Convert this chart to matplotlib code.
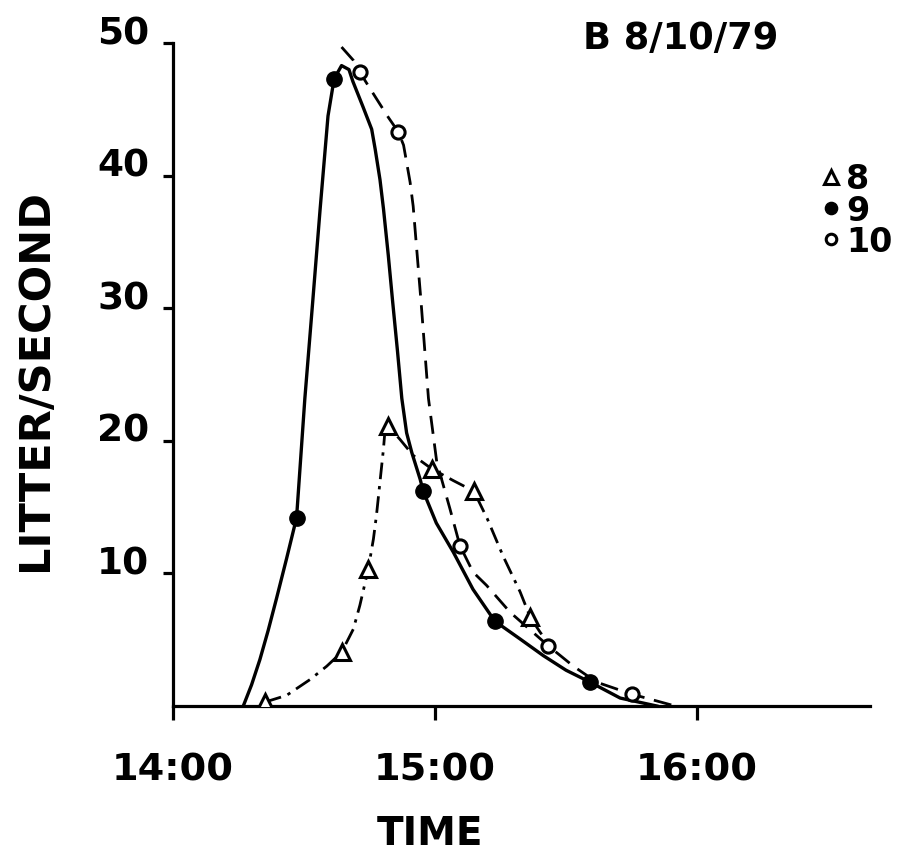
import numpy as np
import matplotlib
matplotlib.use("Agg")
import matplotlib.pyplot as plt

# time in minutes after 14:00, flow in litre/second
# series 8 (triangles, dash-dot)
t8_pts = [21.1, 38.6, 44.7, 49.3, 59.2, 68.9, 81.8]
q8_pts = [0.3, 4.05, 10.3, 21.1, 17.9, 16.2, 6.7]
t8_line = [21.1, 26.0, 31.4, 35.2, 38.6, 41.3, 42.8, 44.7, 45.9, 46.6, 47.4, 48.2, 48.5, 49.3,
           52.0, 55.0, 59.2, 64.2, 68.9, 72.0, 75.6, 79.5, 81.8, 84.0, 85.2]
q8_line = [0.3, 0.8, 2.0, 3.0, 4.05, 5.8, 7.6, 10.3, 12.6, 14.4, 16.9, 19.4, 20.6, 21.1,
           20.1, 18.9, 17.9, 17.0, 16.2, 14.1, 11.3, 8.6, 6.7, 5.6, 5.05]

# series 9 (filled circles, solid)
t9_pts = [28.3, 36.9, 57.3, 73.7, 95.5]
q9_pts = [14.2, 47.3, 16.2, 6.4, 1.8]
t9_line = [16.1, 18.0, 19.9, 21.8, 23.7, 26.0, 28.3, 30.2, 32.0, 33.7, 35.5, 36.9, 38.6, 40.3,
           41.2, 43.5, 45.5, 46.3, 47.4, 48.2, 49.3, 50.3, 51.4, 52.4, 53.5, 54.7, 56.6, 57.3,
           60.3, 64.2, 68.7, 73.7, 79.5, 84.8, 90.0, 95.5, 102.4, 110.8]
q9_line = [0.0, 1.6, 3.5, 5.7, 8.1, 11.1, 14.2, 23.2, 30.5, 37.5, 44.5, 47.3, 48.3, 48.0,
           47.1, 45.2, 43.5, 42.0, 39.7, 37.5, 34.0, 30.5, 26.8, 23.2, 20.6, 19.1, 17.1, 16.2,
           13.8, 11.6, 8.8, 6.4, 5.05, 3.8, 2.7, 1.8, 0.6, 0.0]

# series 10 (open circles, dashed)
t10_pts = [42.8, 51.6, 65.7, 85.9, 105.0]
q10_pts = [47.8, 43.3, 12.1, 4.55, 0.9]
t10_line = [38.6, 41.3, 42.8, 44.3, 46.6, 49.3, 51.6, 52.8, 53.5, 54.3, 55.0, 56.8, 58.5, 60.4,
            63.4, 65.7, 68.7, 71.8, 77.2, 85.9, 91.7, 97.0, 105.0, 115.0]
q10_line = [49.7, 48.7, 47.8, 47.0, 45.8, 44.4, 43.3, 42.3, 41.0, 39.5, 37.7, 30.5, 23.2, 18.4,
            14.9, 12.1, 10.1, 9.1, 7.07, 4.55, 3.0, 1.8, 0.9, 0.0]

xtick_pos = [0, 60, 120]
xtick_lab = ["14:00", "15:00", "16:00"]
ytick_pos = [10, 20, 30, 40, 50]
ytick_lab = ["10", "20", "30", "40", "50"]

plt.rcParams['font.family'] = ['DejaVu Sans']
plt.rcParams['font.weight'] = 'bold'
plt.rcParams['axes.labelweight'] = 'bold'

fig = plt.figure(figsize=(9.07, 8.62), dpi=100)
ax = fig.add_axes([0.1907, 0.1798, 0.7685, 0.7691])

# curves
ax.plot(t8_line, q8_line, color='black', lw=2.0, ls=(0, (6, 2.5, 1.2, 2.5)), zorder=2)
ax.plot(t9_line, q9_line, color='black', lw=2.4, ls='-', zorder=2)
ax.plot(t10_line, q10_line, color='black', lw=2.0, ls=(0, (6.5, 3.5)), zorder=2)

# measured points
ax.plot(t8_pts, q8_pts, ls='none', marker='^', ms=12, mfc='white', mec='black', mew=2.2,
        label='8', zorder=3)
ax.plot(t9_pts, q9_pts, ls='none', marker='o', ms=11, mfc='black', mec='black',
        label='9', zorder=3)
ax.plot(t10_pts, q10_pts, ls='none', marker='o', ms=9.5, mfc='white', mec='black', mew=2.2,
        label='10', zorder=3)

ax.set_xlim(0, 159.6)
ax.set_ylim(0, 50)

for s in ['top', 'right']:
    ax.spines[s].set_visible(False)
for s in ['left', 'bottom']:
    ax.spines[s].set_linewidth(2.3)

ax.set_xticks(xtick_pos)
ax.set_xticklabels(xtick_lab, fontsize=27.5)
ax.set_yticks(ytick_pos)
ax.set_yticklabels(ytick_lab, fontsize=27, va='baseline')
ax.tick_params(axis='x', direction='out', length=10, width=2.3, pad=23)
ax.tick_params(axis='y', direction='out', length=7, width=2.3, pad=10)

ax.set_xlabel('TIME', fontsize=28)
ax.xaxis.set_label_coords(0.369, -0.163)
ax.set_ylabel('LITTER/SECOND', fontsize=31, va='center')
ax.yaxis.set_label_coords(-0.198, 0.493)

ax.text(0.729, 1.008, 'B 8/10/79', transform=ax.transAxes, ha='center', va='center',
        fontsize=26.5)

ax.legend(loc='upper left', bbox_to_anchor=(0.930, 0.820), frameon=False, fontsize=24,
          borderpad=0, borderaxespad=0, handlelength=0.6, handletextpad=0.15,
          labelspacing=-0.05, markerscale=0.8)

fig.savefig('out.png', dpi=100)
